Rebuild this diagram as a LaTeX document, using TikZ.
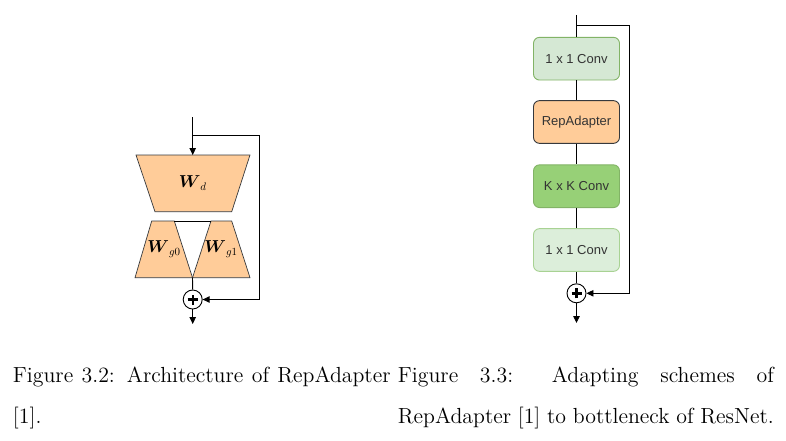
\documentclass[tikz,border=0pt]{standalone}
\usepackage{amsmath}
\usepackage{fontspec}
\newfontfamily\boxfont{Liberation Sans}
\usetikzlibrary{arrows.meta}
\definecolor{peach}{HTML}{FFCC99}
\definecolor{strokegray}{HTML}{36393D}
\definecolor{lgreen}{HTML}{D5E8D4}
\definecolor{lgreenb}{HTML}{82B366}
\definecolor{dgreen}{HTML}{97D077}
\definecolor{pgreen}{HTML}{DCEEDA}
\definecolor{pgreenb}{HTML}{A8D293}
\definecolor{txtgray}{HTML}{333333}
\tikzset{
  line/.style={line width=0.9pt, black},
  arr/.style={line width=0.9pt, black, -{Triangle[length=7pt,width=6.5pt]}},
  trap/.style={fill=peach, draw=strokegray, line width=0.7pt},
  wlabel/.style={inner sep=0pt, font=\fontsize{16}{18}\selectfont},
  convbox/.style={rectangle, rounded corners=6pt, minimum width=86pt, minimum height=42.7pt,
    line width=0.9pt, inner sep=0pt, text=txtgray, font=\boxfont\fontsize{13}{15}\selectfont},
  sumnode/.style={circle, draw=black, line width=0.9pt, fill=white, minimum size=19pt, inner sep=0pt},
  plusbar/.style={line width=2.4pt, black},
  capstyle/.style={scale=1.82, transform shape, text width=207.5pt, align=justify, inner sep=0pt,
    anchor=north west, font=\fontsize{12}{22.5}\selectfont}
}
\begin{document}
\begin{tikzpicture}[x=1pt,y=-1pt]
\useasboundingbox (0,0) rectangle (786,441);

% ---------- left diagram ----------
\coordinate (lin) at (192.7,117);
\coordinate (lbr) at (192.7,135.7);
\coordinate (ltop) at (192.7,155);
\coordinate (lcorner) at (259,135.7);
\coordinate (ljoin) at (192.5,277.7);
\coordinate (lout) at (192.7,324);

\draw[trap] (136,155) -- (250,155) -- (231.7,211.7) -- (155,211.7) -- cycle;
\draw[trap] (151.7,221) -- (174.3,221) -- (192.5,277.7) -- (135,277.7) -- cycle;
\draw[trap] (211,221) -- (231.7,221) -- (250,277.7) -- (192.5,277.7) -- cycle;
\draw[line] (174.3,221) -- (211,221);

\node[wlabel] (wd) at (192.7,183) {$\boldsymbol{W}_{d}$};
\node[wlabel] (wg0) at (164,249) {$\boldsymbol{W}_{g0}$};
\node[wlabel] (wg1) at (221,249) {$\boldsymbol{W}_{g1}$};

\node[sumnode] (ls) at (192.7,299.5) {};
\draw[plusbar] ([xshift=-5pt]ls.center) -- ([xshift=5pt]ls.center);
\draw[plusbar] ([yshift=-5pt]ls.center) -- ([yshift=5pt]ls.center);

\draw[line] (lin) -- (lbr);
\draw[arr] (lbr) -- (ltop);
\draw[arr] (lbr) -- (lcorner) |- (ls.east);
\draw[line] (ljoin) -- (ls.north);
\draw[arr] (ls.south) -- (lout);

% ---------- right diagram ----------
\coordinate (rin) at (576.5,15);
\coordinate (rbr) at (576.5,25.7);
\coordinate (rcorner) at (629,25.7);
\coordinate (rout) at (576.5,323);

\node[convbox, fill=lgreen, draw=lgreenb] (c1) at (576.5,58.7) {1 x 1 Conv};
\node[convbox, fill=peach, draw=strokegray] (ra) at (576.5,122) {RepAdapter};
\node[convbox, fill=dgreen, draw=lgreenb] (kk) at (576.5,186.2) {K x K Conv};
\node[convbox, fill=pgreen, draw=pgreenb] (c2) at (576.5,250) {1 x 1 Conv};
\node[sumnode] (rs) at (576.5,293.3) {};
\draw[plusbar] ([xshift=-5pt]rs.center) -- ([xshift=5pt]rs.center);
\draw[plusbar] ([yshift=-5pt]rs.center) -- ([yshift=5pt]rs.center);

\draw[line] (rin) -- (c1.north);
\draw[line] (c1.south) -- (ra.north);
\draw[line] (ra.south) -- (kk.north);
\draw[line] (kk.south) -- (c2.north);
\draw[line] (c2.south) -- (rs.north);
\draw[arr] (rbr) -- (rcorner) |- (rs.east);
\draw[arr] (rs.south) -- (rout);

% ---------- captions ----------
\node[capstyle] (cap1) at (12.6,366.5) {\hyphenpenalty=10000 Figure 3.2: Architecture of RepAdapter\linebreak{}[1].};
\node[capstyle, text width=206.5pt] (cap2) at (397.6,366.5) {\hyphenpenalty=10000 \parfillskip=0pt Figure 3.3: Adapting schemes of\linebreak RepAdapter [1] to bottleneck of ResNet.};
\end{tikzpicture}
\end{document}
